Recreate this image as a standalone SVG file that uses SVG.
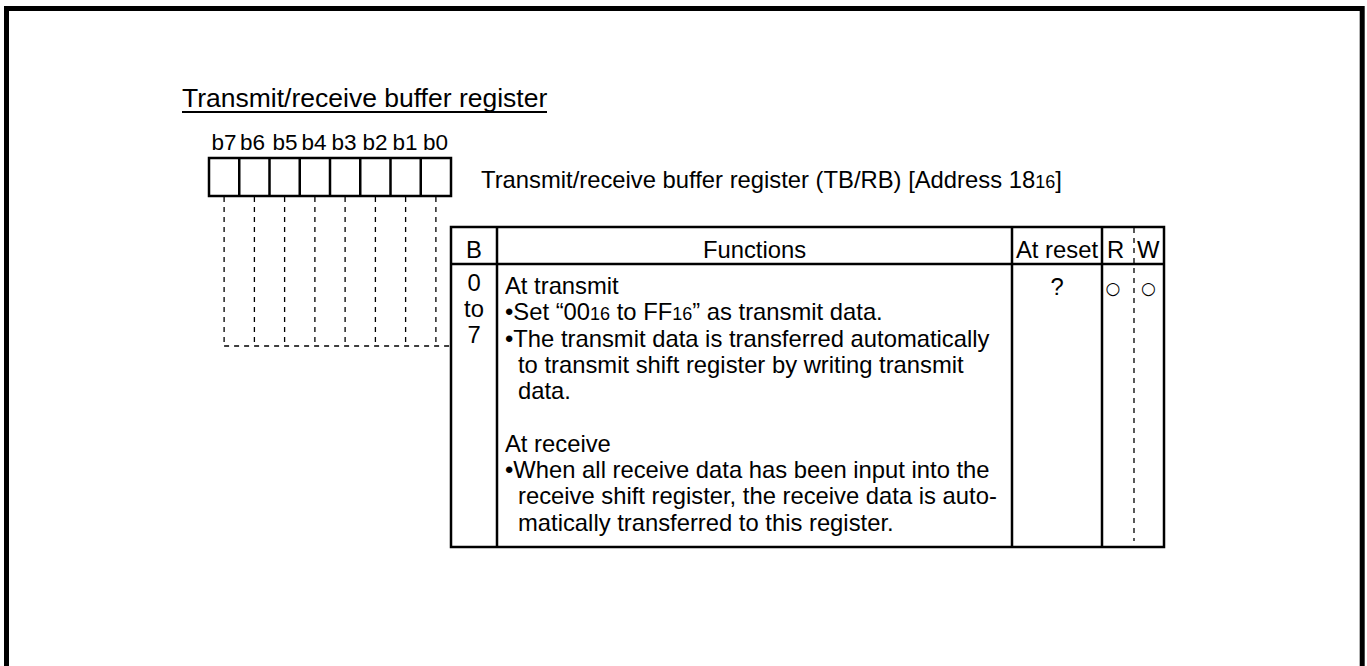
<svg xmlns="http://www.w3.org/2000/svg" width="1367" height="666" viewBox="0 0 1367 666">
<style>
  text { font-family: "Liberation Sans", Arial, sans-serif; fill: #000; }
  .t { font-size: 23.8px; }
  .s { font-size: 18px; }
  .bit { font-size: 22.5px; }
  .title { font-size: 26.5px; }
  .c { text-anchor: middle; }
  .box { fill: #fff; stroke: #000; stroke-width: 2.5; }
  .line { stroke: #000; stroke-width: 2.5; fill: none; }
  .dash { stroke: #000; stroke-width: 1.3; stroke-dasharray: 5 5; fill: none; }
  .sym { font-family: "DejaVu Sans", sans-serif; font-size: 17px; text-anchor: middle; }
</style>
<rect width="1367" height="666" fill="#fff"/>
<rect id="frame" x="6.5" y="8.5" width="1355.7" height="720" fill="none" stroke="#000" stroke-width="5"/>

<g id="title">
  <text class="title" x="182" y="106.5">Transmit/receive buffer register</text>
  <line x1="182" y1="112" x2="547" y2="112" stroke="#000" stroke-width="1.8"/>
</g>

<g id="bits">
  <text class="bit" x="211.5" y="150">b7</text>
  <text class="bit" x="240" y="150">b6</text>
  <text class="bit" x="272.5" y="150">b5</text>
  <text class="bit" x="301.5" y="150">b4</text>
  <text class="bit" x="331.5" y="150">b3</text>
  <text class="bit" x="362.5" y="150">b2</text>
  <text class="bit" x="392.5" y="150">b1</text>
  <text class="bit" x="423" y="150">b0</text>
  <rect class="box" x="209" y="158" width="242" height="38"/>
  <path class="line" d="M239.25 158V196M269.5 158V196M299.75 158V196M330 158V196M360.25 158V196M390.5 158V196M420.75 158V196"/>
</g>

<g id="register-label">
  <text class="t" x="481" y="187.5">Transmit/receive buffer register (TB/RB) [Address 18<tspan class="s">16</tspan>]</text>
</g>

<g id="connectors">
  <path class="dash" d="M224.1 197V346M254.4 197V346M284.6 197V346M314.9 197V346M345.1 197V346M375.4 197V346M405.6 197V346M435.9 197V346"/>
  <path class="dash" d="M224.1 346H451"/>
</g>

<g id="table">
  <rect x="451" y="227" width="713" height="320" fill="#fff" stroke="#000" stroke-width="2.5"/>
  <path class="line" d="M451 264H1164M497 227V547M1012 227V547M1102 227V547"/>
  <path class="dash" d="M1134 228V541"/>
  <text class="t c" x="474" y="258">B</text>
  <text class="t c" x="754.5" y="258">Functions</text>
  <text class="t c" x="1057" y="258">At reset</text>
  <text class="t" x="1107" y="258">R</text>
  <text class="t" x="1137" y="258">W</text>

  <text class="t c" x="474" y="291">0</text>
  <text class="t c" x="474" y="317">to</text>
  <text class="t c" x="474" y="343">7</text>

  <text class="t" x="505" y="294">At transmit</text>
  <text class="t" x="505" y="320.3">•Set “00<tspan class="s">16</tspan> to FF<tspan class="s">16</tspan>” as transmit data.</text>
  <text class="t" x="505" y="346.6">•The transmit data is transferred automatically</text>
  <text class="t" x="518" y="372.9">to transmit shift register by writing transmit</text>
  <text class="t" x="518" y="399.2">data.</text>
  <text class="t" x="505" y="451.8">At receive</text>
  <text class="t" x="505" y="478.1">•When all receive data has been input into the</text>
  <text class="t" x="518" y="504.4">receive shift register, the receive data is auto-</text>
  <text class="t" x="518" y="530.7">matically transferred to this register.</text>

  <text class="t c" x="1057" y="295">?</text>
  <text class="sym" x="1113" y="294">○</text>
  <text class="sym" x="1148.5" y="294">○</text>
</g>
</svg>
